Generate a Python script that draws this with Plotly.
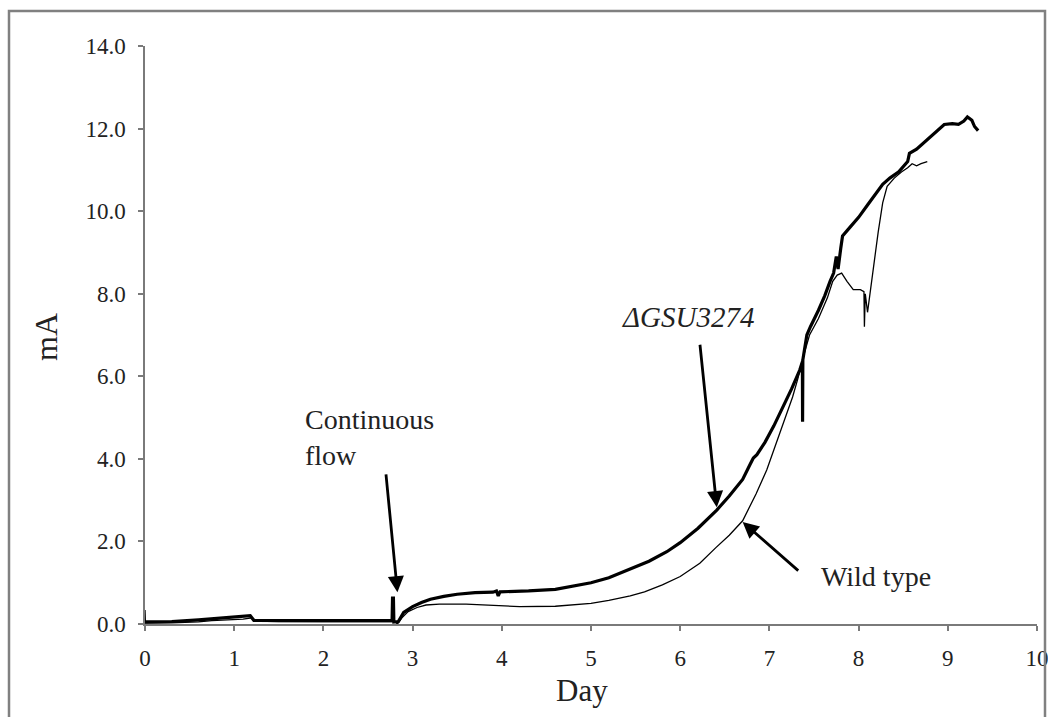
import plotly.graph_objects as go

# ΔGSU3274 (thick line)
mut_day = [0, 0.3, 0.6, 0.9, 1.1, 1.18, 1.22, 1.5, 2.0, 2.5, 2.77, 2.775, 2.785, 2.79, 2.84,
           2.9, 3.0, 3.1, 3.2, 3.35, 3.5, 3.7, 3.9, 3.94, 3.96, 3.98, 4.3, 4.6, 4.8, 5.0,
           5.2, 5.44, 5.65, 5.85, 6.0, 6.2, 6.41, 6.55, 6.7, 6.78, 6.82, 6.86, 6.95, 7.05,
           7.15, 7.25, 7.34, 7.37, 7.372, 7.375, 7.42, 7.46, 7.55, 7.62, 7.68, 7.72, 7.75,
           7.77, 7.8, 7.82, 7.9, 8.0, 8.1, 8.2, 8.27, 8.35, 8.45, 8.55, 8.57, 8.65, 8.75,
           8.85, 8.91, 8.96, 9.05, 9.12, 9.18, 9.22, 9.27, 9.3, 9.34]
mut_ma = [0.05, 0.06, 0.1, 0.15, 0.19, 0.2, 0.09, 0.08, 0.08, 0.08, 0.08, 0.63, 0.63, 0.05, 0.06,
          0.28, 0.42, 0.52, 0.6, 0.67, 0.72, 0.76, 0.77, 0.8, 0.68, 0.78, 0.8, 0.84, 0.92, 1.0,
          1.12, 1.33, 1.52, 1.75, 1.97, 2.32, 2.76, 3.1, 3.5, 3.85, 4.02, 4.1, 4.4, 4.8,
          5.25, 5.7, 6.15, 6.35, 4.9, 6.4, 7.0, 7.2, 7.6, 7.95, 8.3, 8.5, 8.9,
          8.6, 9.1, 9.4, 9.6, 9.85, 10.15, 10.45, 10.65, 10.8, 10.95, 11.2, 11.4, 11.5, 11.7,
          11.9, 12.0, 12.1, 12.12, 12.1, 12.18, 12.28, 12.2, 12.05, 11.95]

# Wild type (thin line)
wt_day = [0, 0.005, 0.3, 0.6, 0.75, 0.95, 1.1, 1.2, 1.23, 1.5, 2.0, 2.5, 2.8, 2.83, 2.88,
          2.95, 3.05, 3.15, 3.3, 3.6, 3.9, 4.2, 4.6, 5.0, 5.2, 5.44, 5.6, 5.8, 6.0, 6.22,
          6.4, 6.55, 6.7, 6.85, 6.97, 7.1, 7.2, 7.26, 7.32, 7.37, 7.45, 7.55, 7.65, 7.71,
          7.76, 7.81, 7.87, 7.94, 8.02, 8.06, 8.065, 8.075, 8.1, 8.16, 8.22, 8.27, 8.32,
          8.4, 8.48, 8.55, 8.6, 8.65, 8.7, 8.77]
wt_ma = [0.34, 0.02, 0.03, 0.05, 0.08, 0.1, 0.12, 0.15, 0.07, 0.06, 0.06, 0.06, 0.06, 0.0, 0.15,
         0.3, 0.4, 0.46, 0.48, 0.48, 0.45, 0.42, 0.43, 0.5, 0.57, 0.68, 0.78, 0.95, 1.15, 1.47,
         1.85, 2.15, 2.5, 3.15, 3.73, 4.5, 5.1, 5.5, 5.95, 6.4, 7.0, 7.4, 7.9, 8.3,
         8.45, 8.5, 8.3, 8.1, 8.1, 8.05, 7.2, 8.0, 7.55, 8.57, 9.5, 10.2, 10.6,
         10.8, 10.95, 11.05, 11.15, 11.1, 11.15, 11.2]

x_ticks = [0, 1, 2, 3, 4, 5, 6, 7, 8, 9, 10]
y_ticks = [0, 2, 4, 6, 8, 10, 12, 14]

FONT = "Liberation Serif, Times New Roman, serif"

W, H = 1048, 717
# plot area in page pixels: x 145..1037, y 46..624
PX0, PX1, PY0, PY1 = 145, 1037, 624, 46
def px_x(p):
    return (p - PX0) / (PX1 - PX0)
def px_y(p):
    return (PY0 - p) / (PY0 - PY1)

fig = go.Figure()
fig.add_trace(go.Scatter(x=wt_day, y=wt_ma, mode="lines", name="Wild type",
                         line=dict(color="black", width=1.3)))
fig.add_trace(go.Scatter(x=mut_day, y=mut_ma, mode="lines", name="ΔGSU3274",
                         line=dict(color="black", width=3.2)))

axis_common = dict(showgrid=False, zeroline=False, showline=True, linecolor="#7a7a7a",
                   linewidth=1.5, ticks="outside", ticklen=5, tickwidth=1.5,
                   tickcolor="#7a7a7a", tickfont=dict(family=FONT, size=23, color="#222"),
                   ticklabeloverflow="allow", automargin=False)

fig.update_xaxes(range=[0, 10], tickvals=x_ticks, ticktext=[str(v) for v in x_ticks],
                 ticklabelstandoff=8, **axis_common)
fig.update_yaxes(range=[0, 14], tickvals=y_ticks, ticktext=[f"{v:.1f}" for v in y_ticks],
                 ticklabelstandoff=8, **axis_common)

arrows = [
    dict(x=2.83, y=0.77, ax=2.70, ay=3.66),
    dict(x=6.41, y=2.83, ax=6.22, ay=6.8),
    dict(x=6.70, y=2.47, ax=7.34, ay=1.26),
]
for a in arrows:
    fig.add_annotation(x=a["x"], y=a["y"], ax=a["ax"], ay=a["ay"], xref="x", yref="y",
                       axref="x", ayref="y", text="", showarrow=True, arrowhead=2,
                       arrowsize=1.15, arrowwidth=2.8, arrowcolor="black")

def txt(size):
    return dict(family=FONT, size=size, color="#222")

fig.add_annotation(x=1.77, y=4.96, xref="x", yref="y", text="Continuous", showarrow=False,
                   xanchor="left", yanchor="middle", font=txt(28))
fig.add_annotation(x=1.77, y=4.09, xref="x", yref="y", text="flow", showarrow=False,
                   xanchor="left", yanchor="middle", font=txt(28))
fig.add_annotation(x=6.09, y=7.43, xref="x", yref="y", text="<i>ΔGSU3274</i>", showarrow=False,
                   xanchor="center", yanchor="middle", font=txt(29))
fig.add_annotation(x=8.19, y=1.14, xref="x", yref="y", text="Wild type", showarrow=False,
                   xanchor="center", yanchor="middle", font=txt(28))

# axis titles
fig.add_annotation(x=px_x(582), y=px_y(690), xref="paper", yref="paper",
                   text="Day", showarrow=False, xanchor="center", yanchor="middle", font=txt(31))
fig.add_annotation(x=px_x(46), y=px_y(337), xref="paper", yref="paper",
                   text="mA", showarrow=False, textangle=-90, xanchor="center",
                   yanchor="middle", font=txt(32))

# outer frame
fig.add_shape(type="rect", xref="paper", yref="paper",
              x0=px_x(9), x1=px_x(1045), y0=px_y(740), y1=px_y(11),
              line=dict(color="#808080", width=2.5), fillcolor="rgba(0,0,0,0)")

fig.update_layout(width=W, height=H, plot_bgcolor="white", paper_bgcolor="white",
                  showlegend=False,
                  margin=dict(l=PX0, r=W - PX1, t=PY1, b=H - PY0, autoexpand=False))

fig.write_html("out.html", config={"displayModeBar": False},
               post_script="document.body.style.margin='0px';document.body.style.overflow='hidden';")
